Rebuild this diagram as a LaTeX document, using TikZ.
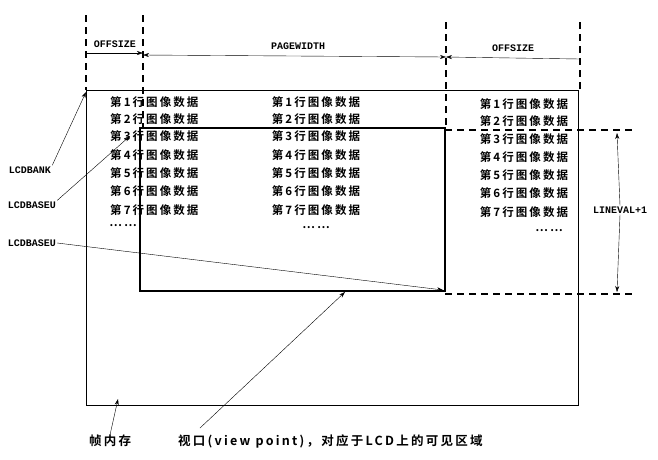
\documentclass[tikz,border=0pt]{standalone}
\usepackage{fontspec}
\newfontfamily\cjk[LetterSpace=18,BoldFont={Noto Sans CJK SC Bold}]{Noto Sans CJK SC}
\newfontfamily\monob{Liberation Mono}[BoldFont={Liberation Mono Bold}]
\usetikzlibrary{arrows.meta}
\begin{document}
\begin{tikzpicture}[x=1pt,y=-1pt,
  thickln/.style={line width=1.6pt},
  frame/.style={line width=1pt},
  dashln/.style={line width=1.5pt,dash pattern=on 7pt off 5pt},
  thinln/.style={line width=0.4pt},
  arr/.style={thinln,-{Stealth[length=6pt,width=4pt]}},
  dim/.style={thinln,{Stealth[length=6pt,width=4pt]}-{Stealth[length=6pt,width=4pt]}},
  row/.style={font=\cjk\bfseries\fontsize{11.5}{12}\selectfont,inner sep=0pt},
  lab/.style={font=\monob\bfseries\fontsize{10}{11}\selectfont,inner sep=1pt},
  captxt/.style={font=\cjk\bfseries\fontsize{12.5}{13}\selectfont,inner sep=0pt}]
\useasboundingbox (0,0) rectangle (658,459);
% frame memory
\coordinate (fTL) at (86,90); \coordinate (fBR) at (578,405);
\draw[frame] (fTL) rectangle (fBR);
% viewport
\coordinate (vTL) at (140,128); \coordinate (vBR) at (445,291);
\draw[thickln] (vTL) rectangle (vBR);
% dashed verticals
\coordinate (d1a) at (86,15); \coordinate (d1b) at (86,90);
\coordinate (d2a) at (143,15); \coordinate (d2b) at (143,128);
\coordinate (d3a) at (446,22); \coordinate (d3b) at (446,128);
\coordinate (d4a) at (580,22); \coordinate (d4b) at (580,90);
\draw[dashln] (d1a)--(d1b); \draw[dashln] (d2a)--(d2b);
\draw[dashln] (d3a)--(d3b); \draw[dashln] (d4a)--(d4b);
% dashed horizontals
\coordinate (h1a) at (445,130); \coordinate (h1b) at (636,130);
\coordinate (h2a) at (445,294); \coordinate (h2b) at (636,294);
\draw[dashln] (h1a)--(h1b); \draw[dashln] (h2a)--(h2b);
% dimensions
\coordinate (m1a) at (86,53); \coordinate (m1b) at (143,53);
\coordinate (m2a) at (143,55); \coordinate (m2b) at (446,57);
\coordinate (m3a) at (446,57); \coordinate (m3b) at (580,59);
\draw[arr] (m1a)--(m1b);
\draw[dim] (m2a)--(m2b);
\draw[thinln,{Stealth[length=6pt,width=4pt]}-] (m3a)--(m3b);
\node[lab] (off1) at (115,44) {OFFSIZE};
\node[lab] (pw) at (298,46) {PAGEWIDTH};
\node[lab] (off2) at (513,48) {OFFSIZE};
\coordinate (la) at (617,133); \coordinate (lb) at (617,292);
\node[lab,fill=white] (lv) at (620,210) {LINEVAL+1};
\draw[arr] (lv.north)--(la);
\draw[arr] (lv.south)--(lb);
% rows
\foreach \i/\y in {1/102,2/119,3/136,4/155,5/173,6/191,7/210}{
  \node[row,anchor=west] (a\i) at (110,\y) {第\i 行图像数据};
  \node[row] (b\i) at (316,\y) {第\i 行图像数据};}
\foreach \i/\y in {1/104,2/121,3/139,4/157,5/175,6/193,7/212}{
  \node[row] (c\i) at (524,\y) {第\i 行图像数据};}
\node[row] (ad) at (123,226) {……};
\node[row] (bd) at (316,228) {……};
\node[row] (cd) at (549,231) {……};
% left labels
\node[lab] (lbank) at (30,170) {LCDBANK};
\node[lab] (lbase1) at (32,205) {LCDBASEU};
\node[lab] (lbase2) at (32,243) {LCDBASEU};
\coordinate (t1) at (86,92); \coordinate (t2) at (130,136); \coordinate (t3) at (443,290);
\draw[arr] (lbank.north east)--(t1);
\draw[arr] (lbase1.north east)--(t2);
\draw[arr] (lbase2.east)--(t3);
% bottom captions
\node[captxt] (zh) at (110,441) {帧内存};
\node[captxt,anchor=west] (vp) at (178,441) {视口(view point)，对应于LCD上的可见区域};
\coordinate (t4) at (118,399); \coordinate (t5) at (345,292); \coordinate (s5) at (200,428);
\draw[arr] (zh.north)--(t4);
\draw[arr] (s5)--(t5);
\end{tikzpicture}
\end{document}
